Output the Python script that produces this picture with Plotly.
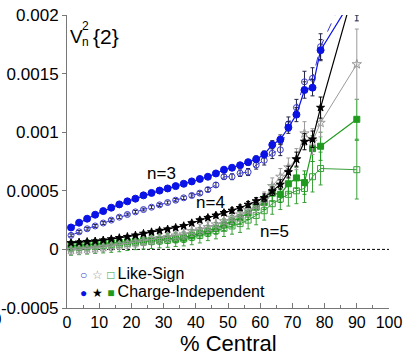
import plotly.graph_objects as go

# ---------------- data ----------------
centrality = [1.25, 3.75, 6.25, 8.75, 11.25, 13.75, 16.25, 18.75, 21.25, 23.75, 26.25,
              28.75, 31.25, 33.75, 36.25, 38.75, 41.25, 43.75, 46.25, 48.75, 51.25, 53.75,
              56.25, 58.75, 61.25, 63.75, 66.25, 68.75, 71.25, 73.75, 76.25, 78.75, 90]

# n=3
v3_ci = [0.000187, 0.000228, 0.000262, 0.000296, 0.000327, 0.000356, 0.000384, 0.00041, 0.000433,
         0.000461, 0.000482, 0.000502, 0.00052, 0.00054, 0.00056, 0.00058, 0.000601, 0.00062,
         0.000648, 0.00068, 0.000697, 0.000718, 0.000744, 0.00077, 0.00081, 0.000893, 0.000937,
         0.00104, 0.00115, 0.00136, 0.00138, 0.0017, 0.0022]
v3_ls = [0.00012, 0.00015, 0.000176, 0.0002, 0.000225, 0.00025, 0.000275, 0.000298, 0.00032,
         0.00034, 0.00036, 0.00038, 0.0004, 0.00042, 0.00044, 0.00046, 0.00048, 0.00051, 0.00055,
         0.00062, 0.00062, 0.00065, 0.00066, 0.00072, 0.00076, 0.00082, 0.00085, 0.00107, 0.00121,
         0.00143, 0.00146, 0.00173, 0.0024]
# n=4
v4_ci = [0.000055, 0.00006, 0.000065, 0.00007, 0.000078, 0.000088, 0.000098, 0.000108, 0.00012,
         0.000135, 0.000148, 0.00016, 0.000172, 0.000185, 0.0002, 0.000225, 0.00025, 0.00027,
         0.00029, 0.000312, 0.000332, 0.000355, 0.000383, 0.000412, 0.00044, 0.000497, 0.000554,
         0.00066, 0.00077, 0.00092, 0.00094, 0.00121, 0.0023]
v4_ls = [-0.000005, 0.0, 0.000005, 0.00001, 0.00002, 0.00003, 0.00004, 0.00005, 0.00006, 0.000072,
         0.000085, 0.000095, 0.000105, 0.000118, 0.000128, 0.000156, 0.00017, 0.00019, 0.000213,
         0.000241, 0.00027, 0.000298, 0.000335, 0.000375, 0.00043, 0.00054, 0.00062, 0.0007,
         0.00077, 0.00099, 0.00092, 0.00108, 0.00158]
# n=5
v5_ci = [0.00003, 0.000035, 0.00004, 0.000045, 0.00005, 0.000055, 0.00006, 0.000065, 0.00007,
         0.000075, 0.00008, 0.000085, 0.00009, 0.000095, 0.0001, 0.00012, 0.00014, 0.000156, 0.00018,
         0.00021, 0.00024, 0.00027, 0.00031, 0.00036, 0.0004, 0.00048, 0.00047, 0.00056, 0.00061,
         0.00057, 0.00086, 0.00088, 0.00111]
v5_ls = [0.00001, 0.000015, 0.00002, 0.000025, 0.00003, 0.000035, 0.00004, 0.00005, 0.000058,
         0.000063, 0.000068, 0.000073, 0.000078, 0.000085, 0.00009, 0.000105, 0.00012, 0.00014,
         0.00016, 0.00018, 0.0002, 0.00022, 0.00025, 0.00029, 0.00033, 0.00039, 0.00043, 0.00047,
         0.0005, 0.00052, 0.00062, 0.00069, 0.00068]

# uncertainties
e3_ci = [0.00001, 0.00001, 0.00001, 0.00001, 0.00001, 0.00001, 0.00001, 0.00001, 0.00001,
         0.00001, 0.00001, 0.00001, 0.00001, 0.00001, 0.000012, 0.000012, 0.000012, 0.000012,
         0.000014, 0.000016, 0.000018, 0.00002, 0.000024, 0.000028, 0.00003, 0.000035, 0.00004,
         0.00005, 0.00006, 0.00007, 0.00007, 0.00009, 0.00025]
e3_ls = [0.000012, 0.000012, 0.000012, 0.000012, 0.000012, 0.000012, 0.000012, 0.000012, 0.000012,
         0.000012, 0.000013, 0.000013, 0.000013, 0.000014, 0.000014, 0.000015, 0.000016, 0.000018,
         0.00002, 0.000022, 0.000025, 0.000028, 0.00003, 0.000035, 0.00004, 0.000045, 0.00005,
         0.00006, 0.00007, 0.00009, 0.00009, 0.00011, 0.0003]
e4_ci = [0.000012, 0.000012, 0.000012, 0.000012, 0.000012, 0.000012, 0.000012, 0.000012, 0.000012,
         0.000012, 0.000013, 0.000013, 0.000013, 0.000014, 0.000014, 0.000015, 0.000016, 0.000017,
         0.000018, 0.00002, 0.000022, 0.000024, 0.000026, 0.00003, 0.000033, 0.000036, 0.00004,
         0.00005, 0.00006, 0.00007, 0.00007, 0.00009, 0.0003]
e4_ls = [0.00004, 0.00004, 0.00004, 0.00004, 0.00004, 0.00004, 0.00004, 0.00004, 0.00004, 0.00004,
         0.00004, 0.00004, 0.00004, 0.00004, 0.00004, 0.000045, 0.000045, 0.000045, 0.00005, 0.00005,
         0.00005, 0.000055, 0.000055, 0.00006, 0.00006, 0.00007, 0.00007, 0.00008, 0.00009, 0.0001,
         0.00011, 0.00012, 0.0003]
e5_ci = [0.00004, 0.00004, 0.00004, 0.00004, 0.00004, 0.00004, 0.00004, 0.00004, 0.00004, 0.00004,
         0.00004, 0.00004, 0.00004, 0.00004, 0.00004, 0.000045, 0.000045, 0.000045, 0.00005, 0.00005,
         0.00005, 0.000055, 0.000055, 0.00006, 0.00006, 0.00007, 0.00007, 0.00008, 0.00009, 0.0001,
         0.00011, 0.00012, 0.00017]
e5_ls = [0.00006, 0.00006, 0.00006, 0.00006, 0.00006, 0.00006, 0.00006, 0.00006, 0.00006, 0.00006,
         0.00006, 0.00006, 0.00006, 0.00006, 0.00006, 0.000065, 0.000065, 0.000065, 0.00007, 0.00007,
         0.00007, 0.000075, 0.000075, 0.00008, 0.00008, 0.00009, 0.00009, 0.0001, 0.00011, 0.00012,
         0.00013, 0.00014, 0.00025]

y_tickvals = [-0.0005, 0, 0.0005, 0.001, 0.0015, 0.002]
y_ticktext = ["-0.0005", "0", "0.0005", "0.001", "0.0015", "0.002"]
x_tickvals = [0, 10, 20, 30, 40, 50, 60, 70, 80, 90, 100]
x_ticktext = ["0", "10", "20", "30", "40", "50", "60", "70", "80", "90", "100"]

FONT = "Liberation Sans, Arial, Helvetica, sans-serif"

BLUE = "#0a12e6"
BLUE_OPEN = "#3a3ad0"
GRAY = "#9a9a9a"
GREEN = "#1f9a1f"
GREEN_OPEN = "#3aa03a"

fig = go.Figure()


def add(y, err, color, symbol, size, lw, dash="solid", ecolor=None):
    fig.add_trace(go.Scatter(
        x=centrality, y=y, mode="lines+markers",
        line=dict(color=color, width=lw, dash=dash),
        marker=dict(symbol=symbol, size=size, color=color,
                    line=dict(color=color, width=1)),
        error_y=dict(type="data", array=err, color=ecolor or color, thickness=1, width=2),
        showlegend=False, cliponaxis=True))


# n=5 (green)
add(v5_ls, e5_ls, GREEN_OPEN, "square-open", 6, 1)
add(v5_ci, e5_ci, GREEN, "square", 6, 1.2)
# n=4
add(v4_ls, e4_ls, GRAY, "star-open", 7, 1)
add(v4_ci, e4_ci, "#000000", "star", 6, 1.2)
# n=3
add(v3_ls, e3_ls, BLUE_OPEN, "circle-open", 6, 1, dash="dash", ecolor="#222244")
add(v3_ci, e3_ci, BLUE, "circle", 7, 1.2, ecolor="#222244")

# zero reference line
fig.add_shape(type="line", xref="paper", yref="y", x0=0, x1=1, y0=0, y1=0,
              line=dict(color="black", width=1, dash="3px,2px"), layer="below")


def note(text, x, y, size, xref="paper", yref="paper", xanchor="center"):
    fig.add_annotation(x=x, y=y, xref=xref, yref=yref, text=text, showarrow=False,
                       xanchor=xanchor, yanchor="middle",
                       font=dict(family=FONT, size=size, color="black"))


# harmonic labels
for txt, xx, yy in [("n=3", 29.4, 0.000647), ("n=4", 44.7, 0.000396), ("n=5", 64.5, 0.000149)]:
    note(txt, xx, yy, 17, xref="x", yref="y")

# V_n^2{2}
note("V", 0.030, 0.928, 19)
note("2", 0.058, 0.962, 12)
note("n", 0.058, 0.908, 12)
note("{2}", 0.074, 0.928, 21, xanchor="left")

# legend (text rows with coloured glyphs)
row1 = ("<span style='font-size:12px;color:%s'>\u25CB</span> "
        "<span style='font-size:12px;color:%s'>\u2606</span> "
        "<span style='font-size:12px;color:%s'>\u25A1</span>\u2009Like-Sign") % (BLUE_OPEN, GRAY, GREEN_OPEN)
row2 = ("<span style='font-size:12px;color:%s'>\u25CF</span> "
        "<span style='font-size:12px;color:#000'>\u2605</span> "
        "<span style='font-size:12px;color:%s'>\u25A0</span>\u2009Charge-Independent") % (BLUE, GREEN)
note(row1, 0.035, 0.119, 16, xanchor="left")
note(row2, 0.035, 0.055, 16, xanchor="left")

# axis title
note("% Central", 0.5, -0.122, 22)

# cut-off neighbour label at far left
note("0", -0.200, -0.040, 17, xanchor="right")

fig.update_layout(
    width=406, height=355,
    margin=dict(l=67, r=17, t=15, b=47),
    paper_bgcolor="white", plot_bgcolor="white",
    font=dict(family=FONT, color="black"),
    xaxis=dict(range=[0, 100], tickvals=x_tickvals, ticktext=x_ticktext, automargin=False,
               ticks="inside", ticklen=5, tickcolor="#777", showgrid=False, zeroline=False,
               showline=True, linecolor="#777", linewidth=1,
               minor=dict(dtick=5, ticks="inside", ticklen=3, tickcolor="#777"),
               tickfont=dict(family=FONT, size=16, color="black")),
    yaxis=dict(range=[-0.0005, 0.002], tickvals=y_tickvals, ticktext=y_ticktext, automargin=False,
               ticks="outside", ticklen=4, tickcolor="#777", showgrid=False, zeroline=False,
               showline=True, linecolor="#777", linewidth=1,
               tickfont=dict(family=FONT, size=17, color="black")),
)

fig.write_html("out.html", config={"displayModeBar": False},
               post_script="document.body.style.margin='0';document.body.style.overflow='hidden';")
